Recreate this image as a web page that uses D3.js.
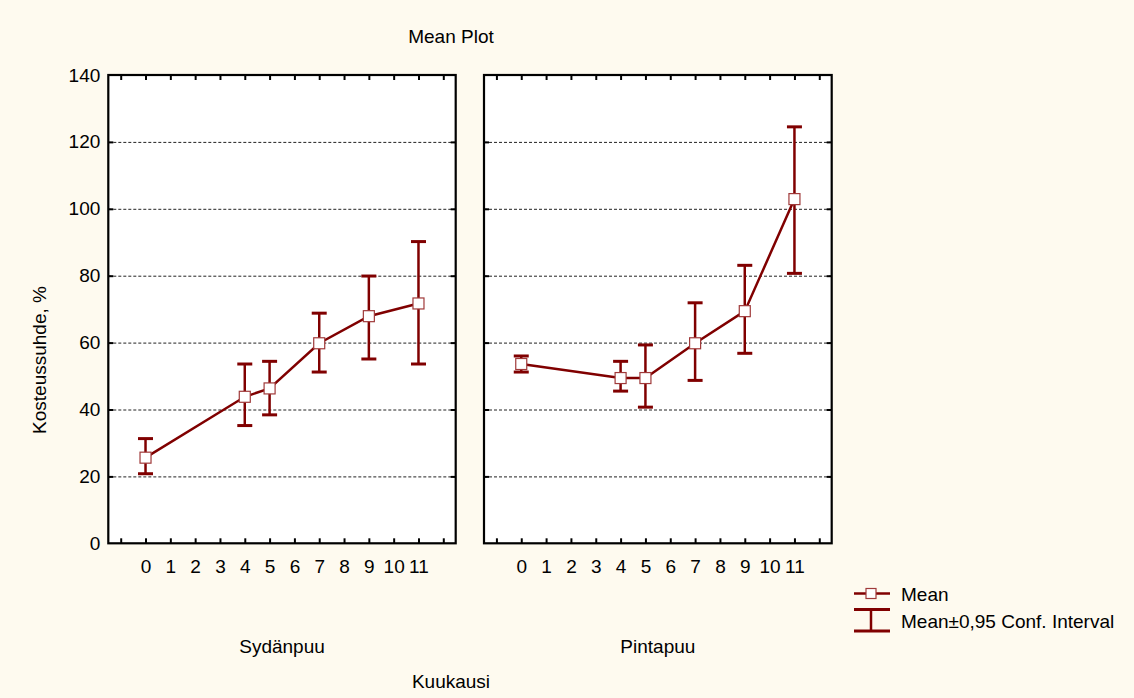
<!DOCTYPE html>
<html>
<head>
<meta charset="utf-8">
<script src="https://cdn.jsdelivr.net/npm/d3@7"></script>
<style>
  body { margin: 0; background: #fefaef; }
  text { font-family: "Liberation Sans", Arial, sans-serif; font-size: 19px; fill: #000; }
</style>
</head>
<body>
<div class="chart"></div>
<script>
// data
const groups = ["Sydänpuu", "Pintapuu"];
const monthTicks = [0, 1, 2, 3, 4, 5, 6, 7, 8, 9, 10, 11];
const months = [0, 4, 5, 7, 9, 11];
const sydMean = [25.6, 43.8, 46.3, 59.8, 67.9, 71.7];
const sydLow  = [20.8, 35.2, 38.4, 51.2, 55.1, 53.6];
const sydHigh = [31.3, 53.6, 54.4, 68.8, 79.9, 90.2];
const pinMean = [53.6, 49.4, 49.4, 59.8, 69.4, 102.9];
const pinLow  = [51.2, 45.5, 40.7, 48.7, 56.8, 80.7];
const pinHigh = [56.0, 54.4, 59.3, 71.9, 83.1, 124.5];
const yTicks = [0, 20, 40, 60, 80, 100, 120, 140];
const gridTicks = [20, 40, 60, 80, 100, 120];

const red = "#800000";
const W = 1134, H = 698;
const plotTop = 75, plotBottom = 543.3;
const panels = [
  { name: groups[0], left: 108.3, right: 455.7, mean: sydMean, low: sydLow, high: sydHigh },
  { name: groups[1], left: 484, right: 831.7, mean: pinMean, low: pinLow, high: pinHigh }
];

const svg = d3.select(".chart").append("svg")
  .attr("width", W).attr("height", H);

svg.append("rect").attr("width", W).attr("height", H).attr("fill", "#fefaef");

const y = d3.scaleLinear().domain([0, 140]).range([plotBottom, plotTop]);

panels.forEach((p, i) => {
  const x = d3.scaleLinear().domain([-1.5, 12.5]).range([p.left, p.right]);
  const w = p.right - p.left;
  const g = svg.append("g");

  g.append("rect")
    .attr("x", p.left).attr("y", plotTop)
    .attr("width", w).attr("height", plotBottom - plotTop)
    .attr("fill", "#fff");

  // dashed grid
  const grid = g.append("g")
    .attr("transform", `translate(${p.left},0)`)
    .call(d3.axisLeft(y).tickValues(gridTicks).tickSize(-w).tickFormat(""));
  grid.select(".domain").remove();
  grid.selectAll("line").attr("stroke", "#222").attr("stroke-width", 1).attr("stroke-dasharray", "3,2");

  // inward ticks on all sides
  const tl = g.append("g").attr("transform", `translate(${p.left},0)`)
    .call(d3.axisRight(y).tickValues(gridTicks).tickSize(5).tickFormat(""));
  const tr = g.append("g").attr("transform", `translate(${p.right},0)`)
    .call(d3.axisLeft(y).tickValues(gridTicks).tickSize(5).tickFormat(""));
  const xt = d3.range(-1, 13);
  const tt = g.append("g").attr("transform", `translate(0,${plotTop})`)
    .call(d3.axisBottom(x).tickValues(xt).tickSize(5).tickFormat(""));
  const tb = g.append("g").attr("transform", `translate(0,${plotBottom})`)
    .call(d3.axisTop(x).tickValues(xt).tickSize(5).tickFormat(""));
  [tl, tr, tt, tb].forEach(a => {
    a.select(".domain").remove();
    a.selectAll("line").attr("stroke", "#000").attr("stroke-width", 2);
  });

  // x labels
  const xl = g.append("g").attr("transform", `translate(0,${plotBottom})`)
    .call(d3.axisBottom(x).tickValues(monthTicks).tickSize(0).tickPadding(16.5));
  xl.select(".domain").remove();
  xl.selectAll("text").attr("font-size", 19).attr("font-family", "Liberation Sans, Arial, sans-serif");

  if (i === 0) {
    const yl = g.append("g").attr("transform", `translate(${p.left},0)`)
      .call(d3.axisLeft(y).tickValues(yTicks).tickSize(0).tickPadding(8));
    yl.select(".domain").remove();
    yl.selectAll("text").attr("font-size", 19).attr("font-family", "Liberation Sans, Arial, sans-serif");
  }

  g.append("rect")
    .attr("x", p.left).attr("y", plotTop)
    .attr("width", w).attr("height", plotBottom - plotTop)
    .attr("fill", "none").attr("stroke", "#000").attr("stroke-width", 2.2);

  // series
  const data = months.map((m, k) => ({ m, mean: p.mean[k], low: p.low[k], high: p.high[k] }));
  const cap = 7.5;
  const eb = g.append("g").attr("stroke", red);
  eb.selectAll(".v").data(data).join("line")
    .attr("x1", d => x(d.m)).attr("x2", d => x(d.m))
    .attr("y1", d => y(d.low)).attr("y2", d => y(d.high))
    .attr("stroke-width", 2.5);
  eb.selectAll(".ch").data(data).join("line")
    .attr("x1", d => x(d.m) - cap).attr("x2", d => x(d.m) + cap)
    .attr("y1", d => y(d.high)).attr("y2", d => y(d.high))
    .attr("stroke-width", 3);
  eb.selectAll(".cl").data(data).join("line")
    .attr("x1", d => x(d.m) - cap).attr("x2", d => x(d.m) + cap)
    .attr("y1", d => y(d.low)).attr("y2", d => y(d.low))
    .attr("stroke-width", 3);

  const line = d3.line().x(d => x(d.m)).y(d => y(d.mean));
  g.append("path").datum(data)
    .attr("d", line).attr("fill", "none")
    .attr("stroke", red).attr("stroke-width", 2.5);

  g.selectAll(".pt").data(data).join("rect")
    .attr("x", d => x(d.m) - 5.5).attr("y", d => y(d.mean) - 5.5)
    .attr("width", 11).attr("height", 11)
    .attr("fill", "#fff").attr("stroke", "#a03a3a").attr("stroke-width", 1.2);

  g.append("text")
    .attr("x", (p.left + p.right) / 2).attr("y", 653)
    .attr("text-anchor", "middle").text(p.name);
});

// titles
svg.append("text").attr("x", 451).attr("y", 43).attr("text-anchor", "middle").text("Mean Plot");
svg.append("text").attr("x", 451).attr("y", 688).attr("text-anchor", "middle").text("Kuukausi");
svg.append("text")
  .attr("transform", "translate(46,360) rotate(-90)")
  .attr("text-anchor", "middle").text("Kosteussuhde, %");

// legend
const lg = svg.append("g");
lg.append("line").attr("x1", 854).attr("x2", 890).attr("y1", 593.5).attr("y2", 593.5)
  .attr("stroke", red).attr("stroke-width", 2.5);
lg.append("rect").attr("x", 866).attr("y", 588.5).attr("width", 10).attr("height", 10)
  .attr("fill", "#fff").attr("stroke", "#a03a3a").attr("stroke-width", 1.2);
lg.append("text").attr("x", 901).attr("y", 601).text("Mean");
lg.append("line").attr("x1", 854).attr("x2", 890).attr("y1", 609.5).attr("y2", 609.5)
  .attr("stroke", red).attr("stroke-width", 3);
lg.append("line").attr("x1", 854).attr("x2", 890).attr("y1", 631).attr("y2", 631)
  .attr("stroke", red).attr("stroke-width", 3);
lg.append("line").attr("x1", 871).attr("x2", 871).attr("y1", 609.5).attr("y2", 631)
  .attr("stroke", red).attr("stroke-width", 2.5);
lg.append("text").attr("x", 901).attr("y", 628).text("Mean±0,95 Conf. Interval");
</script>
</body>
</html>
